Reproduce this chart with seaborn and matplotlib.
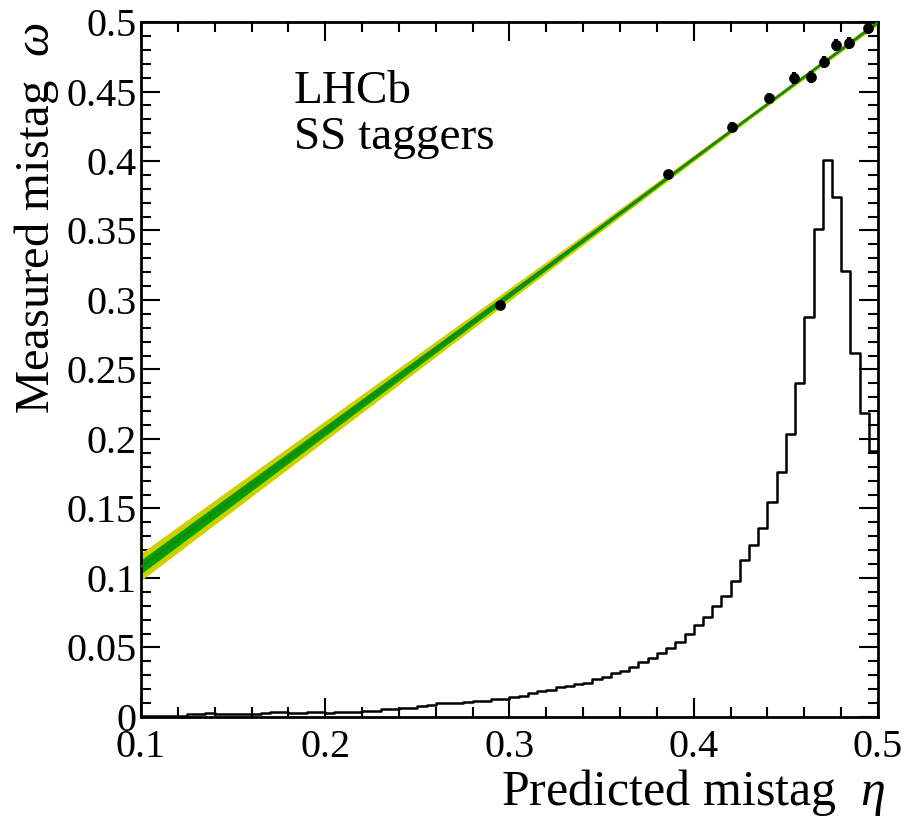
import numpy as np
import pandas as pd
import matplotlib
matplotlib.use("Agg")
import matplotlib.pyplot as plt
from matplotlib.ticker import MultipleLocator, FuncFormatter
import seaborn as sns

# --- calibration points (measured vs predicted mistag) ---
eta_points = [0.2951, 0.3862, 0.4207, 0.4407, 0.4543, 0.4636, 0.4707, 0.4772, 0.4842, 0.4946]
omega_points = [0.2962, 0.3904, 0.4245, 0.4453, 0.4597, 0.4604, 0.4712, 0.4835, 0.4849, 0.4957]
omega_errors = [0.0030, 0.0030, 0.0035, 0.0038, 0.0040, 0.0040, 0.0040, 0.0042, 0.0042, 0.0042]

# --- linear calibration fit: omega = p0 + p1 * (eta - <eta>) ---
fit_p0 = 0.451
fit_p1 = 0.98
fit_eta_mean = 0.45
fit_sigma_p0 = 0.0009
fit_sigma_p1 = 0.0138

# --- predicted-mistag distribution (bin width 0.005 from 0.1 to 0.5) ---
hist_edges = [round(0.100 + 0.005 * i, 3) for i in range(81)]
hist_values = [
    0.0004, 0.0005, 0.0006, 0.0007, 0.0008, 0.0018, 0.0020, 0.0026, 0.0020, 0.0021,
    0.0022, 0.0022, 0.0021, 0.0027, 0.0033, 0.0034, 0.0027, 0.0028, 0.0033, 0.0033,
    0.0030, 0.0037, 0.0038, 0.0039, 0.0044, 0.0046, 0.0054, 0.0056, 0.0066, 0.0068,
    0.0082, 0.0085, 0.0097, 0.0099, 0.0102, 0.0105, 0.0116, 0.0118, 0.0130, 0.0130,
    0.0144, 0.0151, 0.0170, 0.0185, 0.0194, 0.0214, 0.0225, 0.0237, 0.0247, 0.0271,
    0.0285, 0.0314, 0.0333, 0.0362, 0.0393, 0.0422, 0.0458, 0.0494, 0.0540, 0.0597,
    0.0660, 0.0722, 0.0799, 0.0871, 0.0981, 0.1129, 0.1237, 0.1362, 0.1549, 0.1765,
    0.2036, 0.2400, 0.2876, 0.3510, 0.4004, 0.3743, 0.3211, 0.2621, 0.2189, 0.1916,
]

x_ticks = [0.1, 0.2, 0.3, 0.4, 0.5]
y_ticks = [0.0, 0.05, 0.1, 0.15, 0.2, 0.25, 0.3, 0.35, 0.4, 0.45, 0.5]

sns.set_theme(style="ticks")
plt.rcParams["font.family"] = ["Liberation Serif", "DejaVu Serif"]
plt.rcParams["mathtext.fontset"] = "custom"
plt.rcParams["mathtext.rm"] = "Liberation Serif"
plt.rcParams["mathtext.it"] = "Liberation Serif:italic"
plt.rcParams["text.color"] = "black"
plt.rcParams["axes.labelcolor"] = "black"
plt.rcParams["xtick.color"] = "black"
plt.rcParams["ytick.color"] = "black"

fig = plt.figure(figsize=(9.19, 8.18), dpi=100)
ax = fig.add_axes([0.1534, 0.1235, 0.8020, 0.8496])

# fit band (1 sigma green, 2 sigma yellow)
eta_grid = np.linspace(0.1, 0.5, 200)
fit_line = fit_p0 + fit_p1 * (eta_grid - fit_eta_mean)
fit_sigma = np.sqrt(fit_sigma_p0 ** 2 + ((eta_grid - fit_eta_mean) * fit_sigma_p1) ** 2)
ax.fill_between(eta_grid, fit_line - 2 * fit_sigma, fit_line + 2 * fit_sigma,
                color="#cfcf00", linewidth=0, zorder=1)
ax.fill_between(eta_grid, fit_line - fit_sigma, fit_line + fit_sigma,
                color="#00a000", linewidth=0, zorder=2)
sns.lineplot(x=eta_grid, y=fit_line, color="#1f801f", linewidth=1.4, ax=ax, zorder=3)

# distribution of predicted mistag
edges_arr = np.array(hist_edges)
hist_df = pd.DataFrame({
    "eta": (edges_arr[:-1] + edges_arr[1:]) / 2,
    "weight": hist_values,
})
sns.histplot(data=hist_df, x="eta", weights="weight", bins=hist_edges,
             element="step", fill=False, color="black", linewidth=1.8,
             ax=ax, zorder=4)

# calibration points
ax.errorbar(eta_points, omega_points, yerr=omega_errors, fmt="none",
            ecolor="black", elinewidth=3.0, capsize=0, zorder=5)
sns.scatterplot(x=eta_points, y=omega_points, color="black", s=60,
                edgecolor="black", linewidth=0, ax=ax, zorder=6)

ax.set_xlim(0.1, 0.5)
ax.set_ylim(0.0, 0.5)
ax.set_xticks(x_ticks)
ax.set_yticks(y_ticks)
ax.xaxis.set_minor_locator(MultipleLocator(0.02))
ax.yaxis.set_minor_locator(MultipleLocator(0.01))
ax.yaxis.set_major_formatter(FuncFormatter(lambda v, p: f"{v:g}"))
ax.xaxis.set_major_formatter(FuncFormatter(lambda v, p: f"{v:g}"))

ax.tick_params(which="both", direction="in", top=True, right=True,
               color="black", width=1.5, labelsize=29, labelcolor="black")
ax.tick_params(which="major", length=14)
ax.tick_params(which="minor", length=7)
ax.tick_params(axis="x", which="major", pad=9)
ax.tick_params(axis="y", which="major", pad=3)
for spine in ax.spines.values():
    spine.set_visible(True)
    spine.set_linewidth(2.0)
    spine.set_color("black")

ax.set_xlabel(r"Predicted mistag  $\eta$", fontsize=36, loc="right")
ax.set_ylabel(r"Measured mistag  $\omega$", fontsize=35, loc="top")
ax.xaxis.set_label_coords(1.01, -0.072)
ax.yaxis.set_label_coords(-0.108, 1.0)

ax.text(0.207, 0.93, "LHCb\nSS taggers", transform=ax.transAxes,
        fontsize=34, va="top", ha="left", linespacing=1.1)

fig.savefig("out.png", dpi=100)
